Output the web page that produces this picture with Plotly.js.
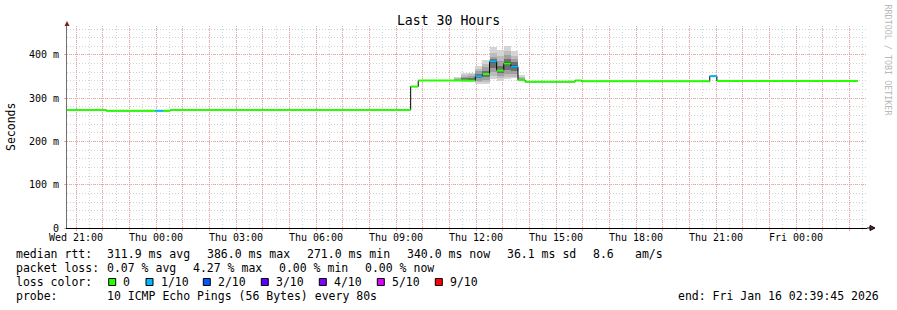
<!DOCTYPE html>
<html><head><meta charset="utf-8">
<script src="https://cdn.plot.ly/plotly-3.0.1.min.js"></script>
<style>html,body{margin:0;padding:0;background:#fff;}#chart{width:897px;height:310px;}</style>
</head><body><div id="chart"></div>
<script>
// ---------- data ----------
const rangeStart = '2026-01-14 20:39:45';
const rangeEnd = '2026-01-16 02:39:45';

// median RTT steps: start time, median (ms), lost pings (of 10)
const stepTimes = ['2026-01-14 20:39:45','2026-01-14 22:08:00','2026-01-14 23:58:00','2026-01-15 00:16:00','2026-01-15 00:32:00','2026-01-15 09:33:00','2026-01-15 09:50:00','2026-01-15 11:58:30','2026-01-15 12:14:30','2026-01-15 12:30:30','2026-01-15 12:46:30','2026-01-15 13:02:30','2026-01-15 13:18:30','2026-01-15 13:34:30','2026-01-15 13:50:30','2026-01-15 15:43:00','2026-01-15 15:58:00','2026-01-15 20:46:00','2026-01-15 21:02:00'];
const stepEnd = '2026-01-16 02:19:00';
const medianValues = [273,271,271,271,273,327,341,351,356,385,364,380,373,342,338,341,339,351,340];
const lossValues   = [0,0,1,0,0,0,0,1,0,1,0,0,1,0,0,0,0,1,0];

// smoke: sorted ping RTTs (ms) per 16-minute column
const smokeTimes = ['2026-01-15 11:10:30','2026-01-15 11:26:30','2026-01-15 11:42:30','2026-01-15 11:58:30','2026-01-15 12:14:30','2026-01-15 12:30:30','2026-01-15 12:46:30','2026-01-15 13:02:30','2026-01-15 13:18:30','2026-01-15 13:34:30'];
const smokeA = [339,340,340,341,341,342,343,345,347,349];
const smokeB = [338,339,340,341,341,343,346,350,354,359];
const smokeC = [337,339,340,341,342,344,347,351,355,359];
const smokeD = [334,337,341,346,350,352,357,362,368,375];
const smokeE = [332,337,343,349,354,358,364,372,380,389];
const smokeF = [344,352,361,370,381,386,390,395,405,419];
const smokeG = [341,346,352,358,362,366,374,385,397,411];
const smokeH = [344,350,357,366,376,384,391,399,409,421];
const smokeI = [346,350,356,363,370,376,383,390,398,409];
const smokeJ = [340,341,341,342,342,343,345,347,350,353];
const smokePings = [smokeA,smokeB,smokeC,smokeD,smokeE,smokeF,smokeG,smokeH,smokeI,smokeJ];

const lossLevels = [0,1,2,3,4,5,9];
const lossLabels = ['0','1/10','2/10','3/10','4/10','5/10','9/10'];
const lossColors = ['#26ff00','#00b8ff','#0059ff','#5e00ff','#7e00ff','#dd00ff','#ff0000'];

const tickLabelTimes = ['2026-01-14 21:00:00','2026-01-15 00:00:00','2026-01-15 03:00:00','2026-01-15 06:00:00','2026-01-15 09:00:00','2026-01-15 12:00:00','2026-01-15 15:00:00','2026-01-15 18:00:00','2026-01-15 21:00:00','2026-01-16 00:00:00'];
const tickLabels = ['Wed 21:00','Thu 00:00','Thu 03:00','Thu 06:00','Thu 09:00','Thu 12:00','Thu 15:00','Thu 18:00','Thu 21:00','Fri 00:00'];
const yTickVals = [0,100,200,300,400];
const yTickText = ['0','100 m','200 m','300 m','400 m'];

const legendRtt = ['311.9 ms avg','386.0 ms max','271.0 ms min','340.0 ms now','36.1 ms sd','8.6','am/s'];
const legendLoss = ['0.07 % avg','4.27 % max','0.00 % min','0.00 % now'];
const probeText = '10 ICMP Echo Pings (56 Bytes) every 80s';
const endText = 'end: Fri Jan 16 02:39:45 2026';

// ---------- layout helpers ----------
const PL = 67, PR = 867, PT = 26, PB = 228;
const px = x => (x - PL) / (PR - PL);
const py = y => (PB - y) / (PB - PT);
const MONO = 'DejaVu Sans Mono';

// ---------- traces ----------
const traces = [];
const smokeGreys = ['#d4d4d4','#bcbcbc','#a0a0a0','#707070','#404040'];
for (let k = 0; k < 5; k++) {
  traces.push({
    type: 'bar', x: smokeTimes,
    base: smokePings.map(p => p[k]),
    y: smokePings.map(p => p[9 - k] - p[k]),
    width: 16 * 60 * 1000, offset: 0,
    marker: {color: smokeGreys[k], line: {width: 0}},
    hoverinfo: 'skip'
  });
}
// black median connector
traces.push({
  type: 'scatter', mode: 'lines',
  x: stepTimes.concat([stepEnd]),
  y: medianValues.concat([medianValues[medianValues.length - 1]]),
  line: {shape: 'hv', color: '#000000', width: 1},
  hoverinfo: 'skip'
});
// loss-coloured median segments
lossLevels.forEach((lv, li) => {
  const xs = [], ys = [];
  for (let i = 0; i < stepTimes.length; i++) {
    if (lossValues[i] !== lv) continue;
    const t1 = i + 1 < stepTimes.length ? stepTimes[i + 1] : stepEnd;
    xs.push(stepTimes[i], t1, null);
    ys.push(medianValues[i], medianValues[i], null);
  }
  if (xs.length) traces.push({
    type: 'scatter', mode: 'lines', x: xs, y: ys,
    line: {color: lossColors[li], width: 2}, hoverinfo: 'skip', connectgaps: false
  });
});

// hourly ticks
const hourVals = [], hourText = [];
const t0 = Date.UTC(2026, 0, 14, 21);
for (let h = 0; h < 30; h++) {
  const s = new Date(t0 + h * 3600000).toISOString().slice(0, 19).replace('T', ' ');
  hourVals.push(s);
  const idx = tickLabelTimes.indexOf(s);
  hourText.push(idx >= 0 ? tickLabels[idx] : '');
}

// ---------- annotations ----------
const ann = [];
function txt(x, y, text, opts) {
  ann.push(Object.assign({
    xref: 'paper', yref: 'paper', x: px(x), y: py(y), text: text,
    showarrow: false, xanchor: 'left', yanchor: 'middle',
    borderpad: 0, borderwidth: 0,
    font: {family: MONO, size: 11.5, color: '#000'}
  }, opts || {}));
}
const L1 = 254.3, L2 = 268.3, L3 = 282.2, L4 = 296.1;
txt(16, L1, 'median rtt:');
[107.3, 207.3, 307.3, 407.3, 507.3, 593.3, 635].forEach((x, i) => txt(x, L1, legendRtt[i]));
txt(16, L2, 'packet loss:');
[107.3, 192.7, 278.7, 365.3].forEach((x, i) => txt(x, L2, legendLoss[i]));
txt(16, L3, 'loss color:');
const boxX = [108.7, 146, 203.3, 261.3, 319.3, 377.3, 435.3];
boxX.forEach((x, i) => txt(x + 14.7, L3, lossLabels[i]));
txt(16, L4, 'probe:');
txt(107.3, L4, probeText);
txt(678.3, L4, endText);
// y axis title
ann.push({xref: 'paper', yref: 'paper', x: px(11), y: py(127), text: 'Seconds', textangle: -90,
  showarrow: false, xanchor: 'center', yanchor: 'middle', borderpad: 0, borderwidth: 0,
  font: {family: MONO, size: 11.5, color: '#000'}});
// vertical credit
ann.push({xref: 'paper', yref: 'paper', x: px(887.5), y: py(60), text: 'RRDTOOL / TOBI OETIKER', textangle: 90,
  showarrow: false, xanchor: 'center', yanchor: 'middle', borderpad: 0, borderwidth: 0,
  font: {family: MONO, size: 8.4, color: '#b8b8b8'}});

// ---------- shapes ----------
const shapes = [];
boxX.forEach((x, i) => shapes.push({
  type: 'rect', xref: 'paper', yref: 'paper',
  x0: px(x), x1: px(x + 7), y0: py(278.5), y1: py(285.5),
  fillcolor: lossColors[i], line: {color: '#000', width: 1}
}));
// axis arrows
shapes.push({type: 'path', xref: 'paper', yref: 'paper', xsizemode: 'pixel', ysizemode: 'pixel',
  xanchor: 0, yanchor: 1, path: 'M -2.5,0 L 2.5,0 L 0,5 Z', fillcolor: '#7f1f1f', line: {width: 0}});
shapes.push({type: 'path', xref: 'paper', yref: 'paper', xsizemode: 'pixel', ysizemode: 'pixel',
  xanchor: 1, yanchor: 0, path: 'M 0,0 L 3,0 M 3,-2.5 L 3,2.5 L 8,0 Z', fillcolor: '#7f1f1f', line: {width: 1, color: '#000'}});

const RED = 'rgb(240,165,165)', GREY = 'rgb(210,210,210)';
const layout = {
  width: 897, height: 310,
  margin: {l: PL, r: 897 - PR, t: PT, b: 310 - PB, pad: 0},
  paper_bgcolor: '#fff', plot_bgcolor: '#fff',
  showlegend: false, barmode: 'overlay', bargap: 0,
  title: {text: 'Last 30 Hours', font: {family: MONO, size: 13.2, color: '#000'},
    x: 0.5, xref: 'container', xanchor: 'center', y: 1 - 20 / 310, yref: 'container', yanchor: 'middle'},
  xaxis: {
    type: 'date', range: [rangeStart, rangeEnd], fixedrange: true,
    tickmode: 'array', tickvals: hourVals, ticktext: hourText,
    ticks: 'outside', ticklen: 2, tickcolor: RED, ticklabelstandoff: -2,
    showgrid: true, gridcolor: RED, griddash: '1px,1px', gridwidth: 1,
    minor: {tickmode: 'linear', tick0: '2026-01-14 20:30:00', dtick: 1800000, showgrid: true,
      gridcolor: GREY, griddash: '1px,2px', gridwidth: 1, ticks: 'outside', ticklen: 1, tickcolor: GREY},
    showline: true, linecolor: '#000', linewidth: 1, zeroline: false,
    tickfont: {family: MONO, size: 10, color: '#000'}
  },
  yaxis: {
    range: [0, 467], fixedrange: true,
    tickmode: 'array', tickvals: yTickVals, ticktext: yTickText,
    ticks: 'outside', ticklen: 2, tickcolor: RED, ticklabelstandoff: 3,
    showgrid: true, gridcolor: RED, griddash: '1px,1px', gridwidth: 1,
    minor: {dtick: 20, showgrid: true, gridcolor: GREY, griddash: '1px,2px', gridwidth: 1},
    showline: true, linecolor: '#707070', linewidth: 1, zeroline: false,
    tickfont: {family: MONO, size: 10, color: '#000'}
  },
  annotations: ann,
  shapes: shapes
};

Plotly.newPlot('chart', traces, layout, {displayModeBar: false, staticPlot: true});
</script>
</body></html>
